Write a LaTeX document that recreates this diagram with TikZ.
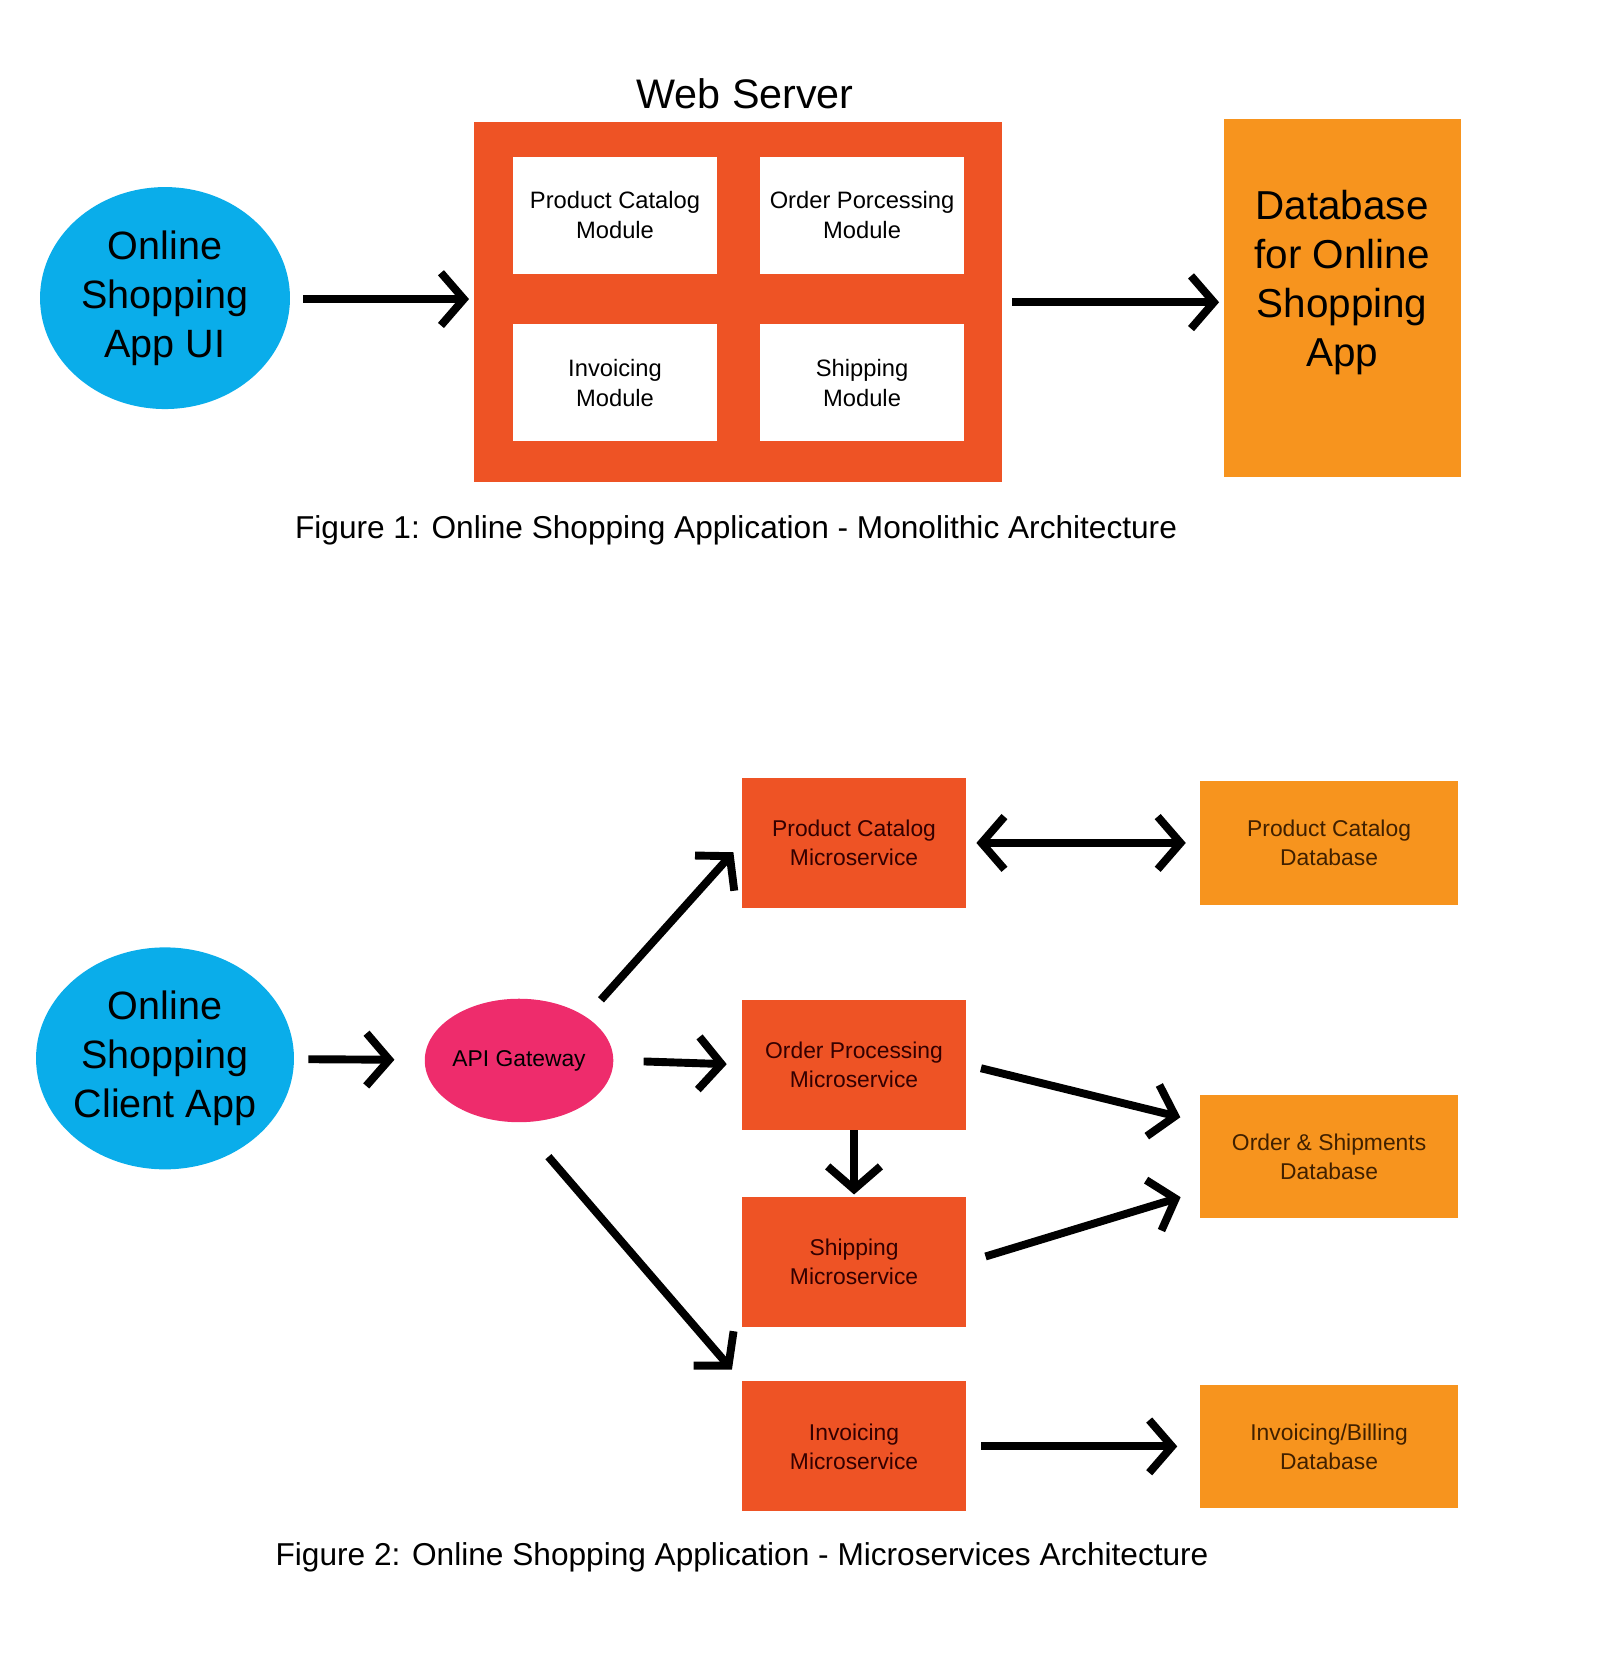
\documentclass[tikz,border=0pt]{standalone}
\usepackage{fontspec}
\setmainfont{Liberation Sans}
\usetikzlibrary{arrows.meta,shapes}
\definecolor{webred}{HTML}{EE5325}
\definecolor{dborange}{HTML}{F7941E}
\definecolor{uiblue}{HTML}{0AADEA}
\definecolor{gwpink}{HTML}{EE2C6C}
\tikzset{
  >={Straight Barb[length=13pt,width=30pt,line width=4.5pt]},
  box/.style={rectangle, inner sep=0pt, align=center},
  module/.style={box, fill=white, minimum width=4.08cm, minimum height=2.34cm, font=\fontsize{13.5}{17}\selectfont},
  micro/.style={box, fill=webred, minimum width=4.48cm, minimum height=2.6cm, font=\fontsize{13}{16.5}\selectfont, text=black!80!red},
  db/.style={box, fill=dborange, minimum width=5.16cm, minimum height=2.47cm, font=\fontsize{13}{16.5}\selectfont, text=black!75!orange},
  client/.style={ellipse, fill=uiblue, minimum width=5cm, minimum height=4.44cm, inner sep=0pt, align=center, font=\fontsize{22.5}{28}\selectfont},
  flow/.style={line width=4.5pt, ->},
  caption/.style={font=\fontsize{18}{22}\selectfont}
}
\begin{document}
\begin{tikzpicture}[x=0.02cm,y=-0.02092cm]
\useasboundingbox (0,0) rectangle (1600,1593);
% Figure 1
\node [box, fill=webred, minimum width=10.56cm, minimum height=7.2cm] (web) at (738,289) {};
\node [font=\fontsize{23.5}{28}\selectfont] (webtitle) at (745,90) {Web Server};
\node [module] (pcmod) at (615,206) {Product Catalog\\Module};
\node [module] (opmod) at (862,206) {Order Porcessing\\Module};
\node [module] (invmod) at (615,366) {Invoicing\\Module};
\node [module] (shipmod) at (862,366) {Shipping\\Module};
\node [client] (ui) at (165,285) {Online\\Shopping\\App UI};
\node [box, fill=dborange, minimum width=4.74cm, minimum height=7.15cm, font=\fontsize{23}{28}\selectfont] (maindb) at (1342,285) {Database\\for Online\\Shopping\\App\\[-0.2cm]};
\draw [flow] (303,286) -- (469,286);
\draw [flow] (1012,289) -- (1219,289);
\node [caption] (cap1) at (736,507) {Figure 1: Online Shopping Application - Monolithic Architecture};

% Figure 2
\node [client] (app) at (165,1012) {Online\\Shopping\\Client App};
\node [ellipse, fill=gwpink, minimum width=3.76cm, minimum height=2.47cm, inner sep=0pt, font=\fontsize{13}{16.5}\selectfont] (gw) at (519,1014) {API Gateway};
\node [micro] (pcms) at (854,806) {Product Catalog\\Microservice};
\node [micro] (opms) at (854,1018) {Order Processing\\Microservice};
\node [micro] (shipms) at (854,1207) {Shipping\\Microservice};
\node [micro] (invms) at (854,1383) {Invoicing\\Microservice};
\node [db] (pcdb) at (1329,806) {Product Catalog\\Database};
\node [db] (osdb) at (1329,1106) {Order \& Shipments\\Database};
\node [db] (invdb) at (1329,1383) {Invoicing/Billing\\Database};

\draw [flow, shorten <=0.28cm, shorten >=0.6cm] (app) -- (gw);
\draw [flow, shorten <=0.6cm, shorten >=0.3cm] (gw.east) -- (opms.west);
\draw [flow, shorten <=0.45cm, shorten >=0.25cm] (gw.north east) -- (pcms.west);
\draw [flow, shorten <=0.9cm, shorten >=0.3cm] (gw.south) -- (invms.north west);
\draw [flow, <->, shorten <=0.2cm, shorten >=0.28cm] (pcms.east) -- (pcdb.west);
\draw [flow, shorten <=0.3cm, shorten >=0.4cm] (opms.east) -- (osdb.165);
\draw [flow, shorten <=0.4cm, shorten >=0.4cm] (shipms.east) -- (osdb.195);
\draw [flow, shorten >=0.05cm] (opms.south) -- (shipms.north);
\draw [flow, shorten <=0.3cm, shorten >=0.45cm] (invms.east) -- (invdb.west);
\node [caption] (cap2) at (742,1489) {Figure 2: Online Shopping Application - Microservices Architecture};
\end{tikzpicture}
\end{document}
